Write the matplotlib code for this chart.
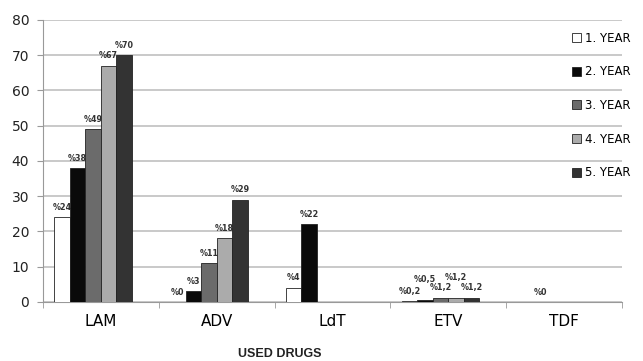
import numpy as np
import matplotlib.pyplot as plt

drugs = ['LAM', 'ADV', 'LdT', 'ETV', 'TDF']
years = ['1. YEAR', '2. YEAR', '3. YEAR', '4. YEAR', '5. YEAR']

year1 = [24, 0, 4, 0.2, 0]
year2 = [38, 3, 22, 0.5, 0]
year3 = [49, 11, 0, 1.2, 0]
year4 = [67, 18, 0, 1.2, 0]
year5 = [70, 29, 0, 1.2, 0]

lab1 = ['%24', '%0', '%4', '%0,2', '']
lab2 = ['%38', '%3', '%22', '%0,5', '%0']
lab3 = ['%49', '%11', '', '%1,2', '']
lab4 = ['%67', '%18', '', '%1,2', '']
lab5 = ['%70', '%29', '', '%1,2', '']

series = [year1, year2, year3, year4, year5]
labels = [lab1, lab2, lab3, lab4, lab5]
colors = ['white', '#0a0a0a', '#6b6b6b', '#ababab', '#333333']

fig = plt.figure(figsize=(6.43, 3.61), dpi=100)
ax = fig.add_axes([0.067, 0.164, 0.9, 0.781])

x = np.arange(len(drugs))
w = 0.134
for i, (vals, labs) in enumerate(zip(series, labels)):
    pos = x + (i - 2.5) * w
    ax.bar(pos, vals, w, color=colors[i], edgecolor='#222222', linewidth=0.6,
           label=years[i], zorder=3)
    for j, (p, v, t) in enumerate(zip(pos, vals, labs)):
        if not t:
            continue
        dy = 1.5
        if drugs[j] == 'ETV' and i % 2 == 1:
            dy = 4.5
        ax.text(p, v + dy, t, ha='center', va='bottom', fontsize=5.8,
                fontweight='bold', color='#333333')

ax.set_xlim(-0.5, len(drugs) - 0.5)
ax.set_ylim(0, 80)
ax.set_yticks(range(0, 81, 10))
ax.yaxis.grid(True, color='#c0c0c0', linewidth=1.2, zorder=0)
ax.set_axisbelow(True)

ax.set_xticks(x)
ax.set_xticklabels(drugs, fontsize=11)
ax.tick_params(axis='x', length=0, pad=9)
ax.set_xticks(np.arange(-0.5, len(drugs), 1), minor=True)
ax.tick_params(axis='x', which='minor', length=4, color='#999999')
ax.tick_params(axis='y', labelsize=10, length=4, color='#999999', pad=6)
for t in ax.get_yticklabels():
    t.set_color('#222222')

for s in ['top', 'right']:
    ax.spines[s].set_visible(False)
for s in ['left', 'bottom']:
    ax.spines[s].set_color('#999999')

fig.text(0.435, 0.012, 'USED DRUGS', ha='center', fontsize=9,
         fontweight='bold', family='Liberation Sans', color='#222222')

ax.legend(loc='upper left', bbox_to_anchor=(0.905, 0.975), frameon=False,
          fontsize=8.5, handlelength=0.8, handleheight=0.8, handletextpad=0.3,
          labelspacing=1.75, borderaxespad=0)

fig.savefig('out.png', dpi=100)
